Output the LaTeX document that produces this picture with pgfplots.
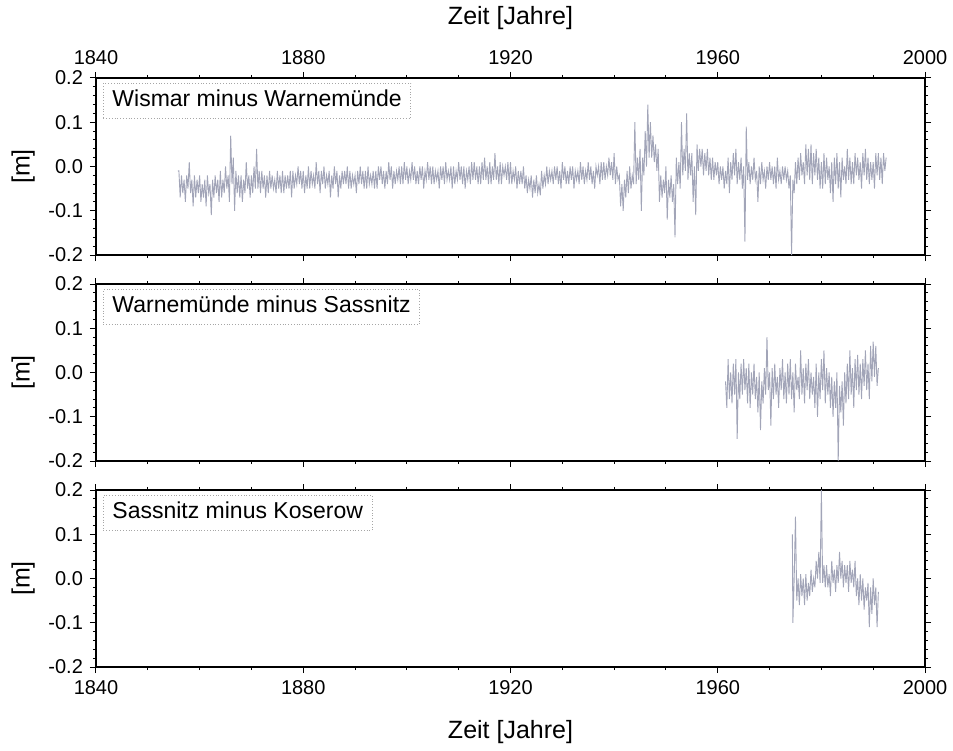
\documentclass[border=0pt]{standalone}
\usepackage{fontspec}
\setmainfont{Liberation Sans}
\usepackage{pgfplots}
\pgfplotsset{compat=1.18}
\definecolor{series}{HTML}{A2A5B8}

\pgfplotsset{panel/.style={
    scale only axis, width=414.5pt, height=88.5pt,
    xmin=1840, xmax=2000, ymin=-0.2, ymax=0.2,
    xtick={1840,1880,1920,1960,2000},
    xticklabels={1840,1880,1920,1960,2000},
    minor x tick num=3,
    ytick={-0.2,-0.1,0,0.1,0.2},
    yticklabels={-0.2,-0.1,0.0,0.1,0.2},
    minor y tick num=4,
    tick align=outside,
    major tick length=3pt, minor tick length=1.6pt,
    every tick/.style={black, line width=0.5pt},
    axis line style={line width=0.8pt},
    tick label style={font=\fontsize{10}{12}\selectfont},
    label style={font=\fontsize{12.5}{14}\selectfont},
    ylabel={[m]},
    yticklabel pos=left, ytick pos=both, xtick pos=both,
  }
}
\tikzset{tag/.style={draw=gray!70, densely dotted, anchor=north west,
    font=\fontsize{11.5}{13}\selectfont, inner xsep=4.5pt, inner ysep=3.25pt,
    text height=8.5pt, text depth=2.5pt},
  ser/.style={color=series, line width=0.45pt, mark=none}}

\begin{document}
\begin{tikzpicture}

% Wismar minus Warnemuende
\begin{axis}[panel, at={(0pt,0pt)}, xticklabel pos=upper, xlabel={Zeit [Jahre]},
  xlabel style={yshift=3.5pt}]
\addplot[ser] coordinates {
(1855.8,-.01)(1856,-.01)(1856.25,-.07)(1856.5,-.02)(1856.75,-.06)
(1857,-.03)(1857.25,-.08)(1857.5,-.02)(1857.75,-.05)
(1858,.01)(1858.25,-.06)(1858.5,-.03)(1858.75,-.09)
(1859,-.02)(1859.25,-.07)(1859.5,-.03)(1859.75,-.06)
(1860,-.02)(1860.25,-.08)(1860.5,-.04)(1860.75,-.07)
(1861,-.03)(1861.25,-.09)(1861.5,-.02)(1861.75,-.06)
(1862,-.04)(1862.25,-.11)(1862.5,-.03)(1862.75,-.07)
(1863,-.02)(1863.25,-.06)(1863.5,-.03)(1863.75,-.08)
(1864,-.01)(1864.25,-.07)(1864.5,-.03)(1864.75,-.06)
(1865,.0)(1865.25,-.05)(1865.5,-.02)(1865.75,-.08)
(1866,.07)(1866.25,-.04)(1866.5,.02)(1866.75,-.10)
(1867,-.01)(1867.25,-.06)(1867.5,-.02)(1867.75,-.07)
(1868,-.02)(1868.25,-.08)(1868.5,-.03)(1868.75,-.06)
(1869,.01)(1869.25,-.05)(1869.5,-.02)(1869.75,-.07)
(1870,-.02)(1870.25,-.06)(1870.5,.0)(1870.75,-.05)
(1871,.04)(1871.25,-.05)(1871.5,-.01)(1871.75,-.06)
(1872,-.01)(1872.25,-.05)(1872.5,-.02)(1872.75,-.07)
(1873,-.02)(1873.25,-.06)(1873.5,-.01)(1873.75,-.05)
(1874,-.02)(1874.25,-.05)(1874.5,-.03)(1874.75,-.06)
(1875,-.01)(1875.25,-.05)(1875.5,-.02)(1875.75,-.06)
(1876,-.01)(1876.25,-.06)(1876.5,-.02)(1876.75,-.05)
(1877,-.02)(1877.25,-.05)(1877.5,-.01)(1877.75,-.07)
(1878,-.01)(1878.25,-.05)(1878.5,-.02)(1878.75,-.04)
(1879,.0)(1879.25,-.04)(1879.5,-.01)(1879.75,-.05)
(1880,-.01)(1880.25,-.06)(1880.5,-.02)(1880.75,-.05)
(1881,.0)(1881.25,-.05)(1881.5,-.01)(1881.75,-.04)
(1882,-.02)(1882.25,-.05)(1882.5,.01)(1882.75,-.04)
(1883,-.01)(1883.25,-.06)(1883.5,-.01)(1883.75,-.04)
(1884,.0)(1884.25,-.05)(1884.5,-.02)(1884.75,-.04)
(1885,-.01)(1885.25,-.07)(1885.5,-.02)(1885.75,-.05)
(1886,.0)(1886.25,-.04)(1886.5,-.01)(1886.75,-.07)
(1887,-.02)(1887.25,-.05)(1887.5,-.01)(1887.75,-.04)
(1888,-.01)(1888.25,-.04)(1888.5,.0)(1888.75,-.05)
(1889,-.01)(1889.25,-.05)(1889.5,-.02)(1889.75,-.04)
(1890,-.02)(1890.25,-.06)(1890.5,-.01)(1890.75,-.04)
(1891,.0)(1891.25,-.04)(1891.5,-.01)(1891.75,-.05)
(1892,-.01)(1892.25,-.05)(1892.5,.0)(1892.75,-.04)
(1893,-.02)(1893.25,-.04)(1893.5,-.01)(1893.75,-.05)
(1894,-.01)(1894.25,-.05)(1894.5,.0)(1894.75,-.03)
(1895,.0)(1895.25,-.04)(1895.5,-.01)(1895.75,-.05)
(1896,-.01)(1896.25,-.04)(1896.5,.01)(1896.75,-.03)
(1897,.0)(1897.25,-.05)(1897.5,-.01)(1897.75,-.04)
(1898,-.01)(1898.25,-.03)(1898.5,.0)(1898.75,-.04)
(1899,.0)(1899.25,-.04)(1899.5,.01)(1899.75,-.03)
(1900,.0)(1900.25,-.04)(1900.5,-.01)(1900.75,-.03)
(1901,.01)(1901.25,-.03)(1901.5,.0)(1901.75,-.04)
(1902,-.01)(1902.25,-.04)(1902.5,.0)(1902.75,-.03)
(1903,.0)(1903.25,-.05)(1903.5,-.01)(1903.75,-.03)
(1904,.01)(1904.25,-.03)(1904.5,.0)(1904.75,-.04)
(1905,.0)(1905.25,-.04)(1905.5,-.01)(1905.75,-.03)
(1906,-.01)(1906.25,-.05)(1906.5,.0)(1906.75,-.03)
(1907,.0)(1907.25,-.04)(1907.5,.01)(1907.75,-.03)
(1908,-.01)(1908.25,-.03)(1908.5,.0)(1908.75,-.05)
(1909,.0)(1909.25,-.04)(1909.5,-.01)(1909.75,-.03)
(1910,.01)(1910.25,-.03)(1910.5,.0)(1910.75,-.04)
(1911,.0)(1911.25,-.05)(1911.5,-.01)(1911.75,-.03)
(1912,.0)(1912.25,-.04)(1912.5,.01)(1912.75,-.03)
(1913,.01)(1913.25,-.03)(1913.5,.0)(1913.75,-.04)
(1914,.0)(1914.25,-.04)(1914.5,.01)(1914.75,-.03)
(1915,.02)(1915.25,-.03)(1915.5,.0)(1915.75,-.04)
(1916,.01)(1916.25,-.04)(1916.5,.0)(1916.75,-.03)
(1917,.03)(1917.25,-.03)(1917.5,.0)(1917.75,-.04)
(1918,.01)(1918.25,-.04)(1918.5,.0)(1918.75,-.02)
(1919,.0)(1919.25,-.03)(1919.5,.01)(1919.75,-.04)
(1920,.01)(1920.25,-.04)(1920.5,-.01)(1920.75,-.03)
(1921,.0)(1921.25,-.05)(1921.5,-.01)(1921.75,-.04)
(1922,-.01)(1922.25,-.04)(1922.5,.0)(1922.75,-.05)
(1923,-.02)(1923.25,-.06)(1923.5,-.03)(1923.75,-.05)
(1924,-.02)(1924.25,-.07)(1924.5,-.03)(1924.75,-.06)
(1925,-.02)(1925.25,-.06)(1925.5,-.04)(1925.75,-.065)
(1926,-.01)(1926.25,-.05)(1926.5,-.02)(1926.75,-.04)
(1927,.0)(1927.25,-.04)(1927.5,-.01)(1927.75,-.03)
(1928,-.01)(1928.25,-.04)(1928.5,.0)(1928.75,-.03)
(1929,.0)(1929.25,-.04)(1929.5,-.01)(1929.75,-.05)
(1930,.01)(1930.25,-.03)(1930.5,.0)(1930.75,-.04)
(1931,-.01)(1931.25,-.04)(1931.5,.0)(1931.75,-.03)
(1932,.0)(1932.25,-.05)(1932.5,-.01)(1932.75,-.03)
(1933,-.01)(1933.25,-.04)(1933.5,.01)(1933.75,-.03)
(1934,.0)(1934.25,-.04)(1934.5,-.01)(1934.75,-.03)
(1935,.01)(1935.25,-.03)(1935.5,.0)(1935.75,-.04)
(1936,-.01)(1936.25,-.05)(1936.5,.0)(1936.75,-.02)
(1937,.0)(1937.25,-.04)(1937.5,.01)(1937.75,-.03)
(1938,.01)(1938.25,-.03)(1938.5,.0)(1938.75,-.02)
(1939,.02)(1939.25,-.02)(1939.5,.01)(1939.75,-.03)
(1940,.03)(1940.25,-.04)(1940.5,.0)(1940.75,-.03)
(1941,-.02)(1941.25,-.09)(1941.5,-.04)(1941.75,-.10)
(1942,-.03)(1942.25,-.07)(1942.5,-.01)(1942.75,-.06)
(1943,.0)(1943.25,-.05)(1943.5,-.02)(1943.75,-.04)
(1944,.10)(1944.25,-.04)(1944.5,.02)(1944.75,-.03)
(1945,.04)(1945.25,-.10)(1945.5,.02)(1945.75,-.02)
(1946,.08)(1946.25,.0)(1946.5,.14)(1946.75,.02)
(1947,.10)(1947.25,.02)(1947.5,.07)(1947.75,.01)
(1948,.05)(1948.25,-.01)(1948.5,.04)(1948.75,-.08)
(1949,-.02)(1949.25,-.07)(1949.5,-.03)(1949.75,-.06)
(1950,.0)(1950.25,-.12)(1950.5,-.03)(1950.75,-.07)
(1951,-.02)(1951.25,-.08)(1951.5,-.04)(1951.75,-.16)
(1952,.02)(1952.25,-.04)(1952.5,.01)(1952.75,-.05)
(1953,.10)(1953.25,-.02)(1953.5,.04)(1953.75,-.01)
(1954,.12)(1954.25,-.03)(1954.5,.03)(1954.75,-.02)
(1955,.03)(1955.25,-.08)(1955.5,.0)(1955.75,-.11)
(1956,.05)(1956.25,-.01)(1956.5,.04)(1956.75,.0)
(1957,.04)(1957.25,-.02)(1957.5,.03)(1957.75,-.01)
(1958,.04)(1958.25,-.02)(1958.5,.02)(1958.75,-.03)
(1959,.02)(1959.25,-.03)(1959.5,.01)(1959.75,-.02)
(1960,.01)(1960.25,-.04)(1960.5,.0)(1960.75,-.03)
(1961,.0)(1961.25,-.05)(1961.5,-.01)(1961.75,-.04)
(1962,.02)(1962.25,-.06)(1962.5,.01)(1962.75,-.03)
(1963,.03)(1963.25,-.02)(1963.5,.04)(1963.75,-.04)
(1964,.01)(1964.25,-.03)(1964.5,.02)(1964.75,-.05)
(1965,.0)(1965.25,-.17)(1965.5,.09)(1965.75,-.03)
(1966,.01)(1966.25,-.04)(1966.5,.0)(1966.75,-.03)
(1967,.02)(1967.25,-.03)(1967.5,-.01)(1967.75,-.08)
(1968,.0)(1968.25,-.04)(1968.5,.01)(1968.75,-.03)
(1969,-.01)(1969.25,-.05)(1969.5,.0)(1969.75,-.03)
(1970,.01)(1970.25,-.03)(1970.5,.0)(1970.75,-.04)
(1971,.0)(1971.25,-.05)(1971.5,.02)(1971.75,-.03)
(1972,-.01)(1972.25,-.04)(1972.5,.0)(1972.75,-.03)
(1973,.0)(1973.25,-.03)(1973.5,-.01)(1973.75,-.05)
(1974,-.02)(1974.25,-.20)(1974.5,-.03)(1974.75,-.06)
(1975,.01)(1975.25,-.04)(1975.5,.02)(1975.75,-.03)
(1976,.03)(1976.25,-.02)(1976.5,.01)(1976.75,-.04)
(1977,.05)(1977.25,-.02)(1977.5,.04)(1977.75,-.03)
(1978,.05)(1978.25,-.04)(1978.5,.03)(1978.75,-.02)
(1979,.04)(1979.25,-.03)(1979.5,.02)(1979.75,-.05)
(1980,.01)(1980.25,-.05)(1980.5,.03)(1980.75,-.04)
(1981,.02)(1981.25,-.03)(1981.5,.0)(1981.75,-.06)
(1982,.01)(1982.25,-.08)(1982.5,.02)(1982.75,-.04)
(1983,.03)(1983.25,-.05)(1983.5,.01)(1983.75,-.07)
(1984,.02)(1984.25,-.03)(1984.5,.0)(1984.75,-.04)
(1985,.04)(1985.25,-.03)(1985.5,.02)(1985.75,-.04)
(1986,.01)(1986.25,-.04)(1986.5,.03)(1986.75,-.02)
(1987,.02)(1987.25,-.03)(1987.5,.01)(1987.75,-.05)
(1988,.03)(1988.25,-.02)(1988.5,.04)(1988.75,-.03)
(1989,.02)(1989.25,-.04)(1989.5,.01)(1989.75,-.03)
(1990,.01)(1990.25,-.05)(1990.5,.03)(1990.75,-.02)
(1991,.03)(1991.25,-.03)(1991.5,.02)(1991.75,-.04)
(1992,.03)(1992.25,-.01)(1992.5,.02)
};
\node[tag] at (rel axis cs:0.0085,0.972) {Wismar minus Warnemünde};
\end{axis}

% Warnemuende minus Sassnitz
\begin{axis}[panel, at={(0pt,-103pt)}, xticklabels={}]
\addplot[ser] coordinates {
(1961.5,-.02)(1961.75,-.08)
(1962,.03)(1962.25,-.06)(1962.5,.0)(1962.75,-.07)
(1963,.02)(1963.25,-.05)(1963.5,.03)(1963.75,-.15)
(1964,.0)(1964.25,-.06)(1964.5,.02)(1964.75,-.05)
(1965,.03)(1965.25,-.04)(1965.5,.01)(1965.75,-.07)
(1966,.02)(1966.25,-.08)(1966.5,.0)(1966.75,-.05)
(1967,.02)(1967.25,-.06)(1967.5,-.01)(1967.75,-.09)
(1968,.0)(1968.25,-.13)(1968.5,-.02)(1968.75,-.07)
(1969,.01)(1969.25,-.05)(1969.5,.08)(1969.75,-.04)
(1970,.0)(1970.25,-.12)(1970.5,.01)(1970.75,-.06)
(1971,.02)(1971.25,-.05)(1971.5,-.01)(1971.75,-.08)
(1972,.01)(1972.25,-.04)(1972.5,.03)(1972.75,-.06)
(1973,.0)(1973.25,-.07)(1973.5,.02)(1973.75,-.05)
(1974,.03)(1974.25,-.06)(1974.5,.0)(1974.75,-.09)
(1975,.02)(1975.25,-.04)(1975.5,-.01)(1975.75,-.06)
(1976,.05)(1976.25,-.05)(1976.5,.01)(1976.75,-.07)
(1977,.02)(1977.25,-.04)(1977.5,.03)(1977.75,-.06)
(1978,.0)(1978.25,-.05)(1978.5,-.01)(1978.75,-.08)
(1979,.02)(1979.25,-.10)(1979.5,.0)(1979.75,-.06)
(1980,.03)(1980.25,-.04)(1980.5,.05)(1980.75,-.07)
(1981,.01)(1981.25,-.05)(1981.5,.0)(1981.75,-.08)
(1982,-.01)(1982.25,-.10)(1982.5,-.02)(1982.75,-.08)
(1983,.0)(1983.25,-.20)(1983.5,-.03)(1983.75,-.09)
(1984,-.02)(1984.25,-.12)(1984.5,.0)(1984.75,-.07)
(1985,.02)(1985.25,-.06)(1985.5,.05)(1985.75,-.05)
(1986,.01)(1986.25,-.08)(1986.5,.03)(1986.75,-.04)
(1987,.04)(1987.25,-.05)(1987.5,.02)(1987.75,-.06)
(1988,.03)(1988.25,-.03)(1988.5,.05)(1988.75,-.04)
(1989,.02)(1989.25,-.06)(1989.5,.06)(1989.75,-.02)
(1990,.07)(1990.25,-.01)(1990.5,.06)(1990.75,-.03)
(1991,.01)
};
\node[tag] at (rel axis cs:0.0085,0.972) {Warnemünde minus Sassnitz};
\end{axis}

% Sassnitz minus Koserow
\begin{axis}[panel, at={(0pt,-206pt)}, xlabel={Zeit [Jahre]},
  xlabel style={yshift=-6pt}]
\addplot[ser] coordinates {
(1974.4,.10)(1974.5,-.10)(1974.75,.0)
(1975,.14)(1975.25,-.05)(1975.5,.0)(1975.75,-.06)
(1976,.01)(1976.25,-.04)(1976.5,.0)(1976.75,-.06)
(1977,.01)(1977.25,-.05)(1977.5,-.01)(1977.75,-.04)
(1978,.02)(1978.25,-.03)(1978.5,.0)(1978.75,-.02)
(1979,.04)(1979.25,.0)(1979.5,.06)(1979.75,-.01)
(1980,.20)(1980.25,-.01)(1980.5,.03)(1980.75,-.02)
(1981,.03)(1981.25,-.02)(1981.5,.01)(1981.75,-.04)
(1982,.04)(1982.25,-.01)(1982.5,.02)(1982.75,-.03)
(1983,.03)(1983.25,-.01)(1983.5,.06)(1983.75,.0)
(1984,.04)(1984.25,-.02)(1984.5,.03)(1984.75,-.01)
(1985,.03)(1985.25,-.03)(1985.5,.04)(1985.75,-.01)
(1986,.02)(1986.25,-.02)(1986.5,.04)(1986.75,-.04)
(1987,.0)(1987.25,-.06)(1987.5,.01)(1987.75,-.05)
(1988,.0)(1988.25,-.07)(1988.5,-.02)(1988.75,-.05)
(1989,-.01)(1989.25,-.11)(1989.5,-.02)(1989.75,-.08)
(1990,.0)(1990.25,-.06)(1990.5,-.02)(1990.75,-.11)
(1991,-.03)
};
\node[tag] at (rel axis cs:0.0085,0.972) {Sassnitz minus Koserow};
\end{axis}

\pgfresetboundingbox
\useasboundingbox (-48pt,-247.5pt) rectangle (428.5pt,127.5pt);
\end{tikzpicture}
\end{document}
